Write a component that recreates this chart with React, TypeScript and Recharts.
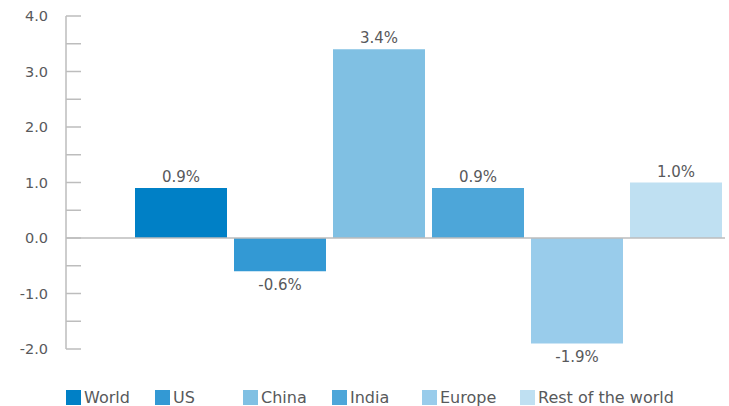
import React from "react";
import { BarChart, Bar, XAxis, YAxis, Cell, LabelList, ReferenceLine } from "recharts";

const regions = ["World", "US", "China", "India", "Europe", "Rest of the world"];
const growth = [0.9, -0.6, 3.4, 0.9, -1.9, 1.0];
const colors = ["#0080c6", "#3399d4", "#80c0e3", "#4da6d9", "#99cceb", "#bfe0f2"];
const yTicks = [-2, -1.5, -1, -0.5, 0, 0.5, 1, 1.5, 2, 2.5, 3, 3.5, 4];
const legendWidths = [89, 88, 89, 90, 98, 160];

const FONT = "'DejaVu Sans', sans-serif";
const TEXT = "#58595b";
const AXIS = "#bdbdbd";

const chartData = regions.map((name, i) => ({ name, value: growth[i] }));

interface TickProps {
  x?: number;
  y?: number;
  payload?: { value: number };
}

function YTick({ x = 0, y = 0, payload }: TickProps) {
  const v = payload?.value ?? 0;
  const major = Number.isInteger(v);
  return (
    <g>
      <line x1={x} x2={x + 15} y1={y} y2={y} stroke={AXIS} strokeWidth={1.5} />
      {major && (
        <text x={x - 18} y={y + 5} textAnchor="end" fontSize={14.5} fontFamily={FONT} fill={TEXT}>
          {v.toFixed(1)}
        </text>
      )}
    </g>
  );
}

interface LabelProps {
  x?: number;
  y?: number;
  width?: number;
  height?: number;
  value?: number;
}

function ValueLabel({ x = 0, y = 0, width = 0, height = 0, value = 0 }: LabelProps) {
  const top = Math.min(y, y + height);
  const bottom = Math.max(y, y + height);
  const ty = value >= 0 ? top - 6 : bottom + 19;
  return (
    <text x={x + width / 2} y={ty} textAnchor="middle" fontSize={15} fontFamily={FONT} fill={TEXT}>
      {`${value.toFixed(1)}%`}
    </text>
  );
}

export default function App() {
  return (
    <div style={{ position: "absolute", left: 0, top: 0, width: 729, height: 406, background: "#fff" }}>
      <BarChart
        width={729}
        height={406}
        data={chartData}
        margin={{ top: 16, right: 4, left: 0, bottom: 57 }}
      >
        <XAxis dataKey="name" hide padding={{ left: 65, right: 0 }} />
        <YAxis
          domain={[-2, 4]}
          ticks={yTicks}
          interval={0}
          width={66}
          tickSize={0}
          tickMargin={0}
          axisLine={{ stroke: AXIS, strokeWidth: 1.5 }}
          tickLine={false}
          tick={<YTick />}
        />
        <ReferenceLine y={0} stroke={AXIS} strokeWidth={1.5} />
        <Bar dataKey="value" barSize={92} isAnimationActive={false}>
          {chartData.map((d, i) => (
            <Cell key={d.name} fill={colors[i]} />
          ))}
          <LabelList dataKey="value" content={<ValueLabel />} />
        </Bar>
      </BarChart>
      <div
        style={{
          position: "absolute",
          left: 66,
          top: 389,
          display: "flex",
          fontFamily: FONT,
          fontSize: 16,
          color: TEXT,
          lineHeight: "17px",
        }}
      >
        {regions.map((r, i) => (
          <div key={r} style={{ display: "flex", alignItems: "center", width: legendWidths[i] }}>
            <span style={{ width: 15, height: 15, background: colors[i], marginRight: 3 }} />
            <span>{r}</span>
          </div>
        ))}
      </div>
    </div>
  );
}
